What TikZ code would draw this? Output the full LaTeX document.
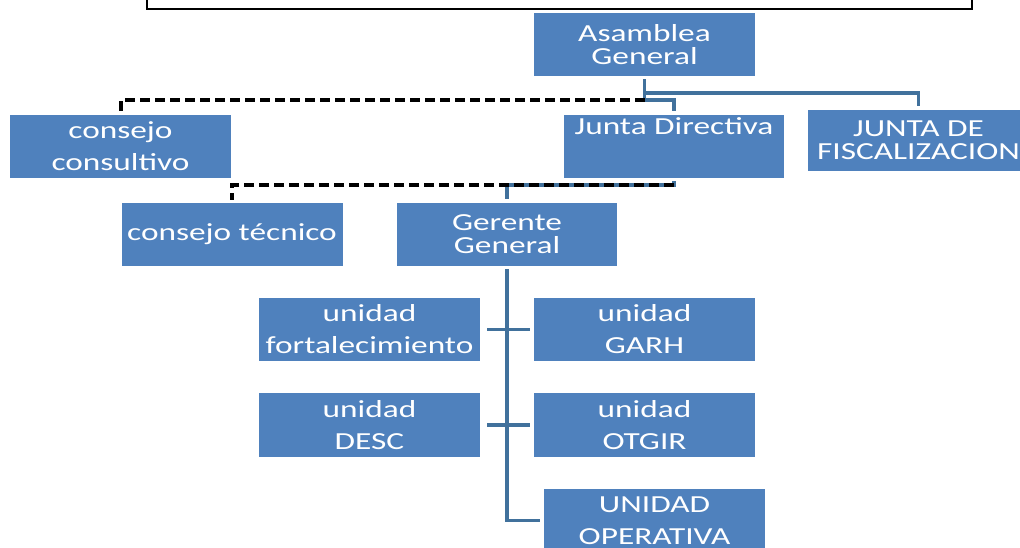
\documentclass[tikz,border=0pt]{standalone}
\usepackage{fontspec}
\usepackage{xcolor}
\newfontfamily\orgFont[FakeStretch=1.36]{Carlito}
\definecolor{boxColor}{RGB}{79, 129, 189}
\definecolor{lineColor}{RGB}{65, 113, 156}

\begin{document}
\begin{tikzpicture}[x=1pt, y=-1pt,
    orgbox/.style={fill=boxColor, text=white, inner sep=2pt, minimum width=221, minimum height=63, align=center, font=\orgFont\fontsize{24.5}{23}\selectfont},
    orgboxloose/.style={orgbox, font=\orgFont\fontsize{24.5}{32}\selectfont},
    link/.style={draw=lineColor, line width=3.5pt, shorten <=3pt, shorten >=4pt},
    dashlink/.style={draw=black, line width=4pt, dash pattern=on 10pt off 5pt, shorten >=3pt}]
                \useasboundingbox (0,0) rectangle (1020,547);
                \clip (0,0) rectangle (1020,547);
                \draw[line width=1.8pt] (147,-20) rectangle (972,9);
                \node[orgbox] (asamblea) at (644.5,44.5) {Asamblea\\General};
                \node[orgboxloose] (consultivo) at (120.5,146.5) {consejo\\consultivo};
                \node[orgboxloose, minimum width=220] (junta) at (674,146.5) {Junta Directiva\\\strut};
                \node[orgbox, minimum height=61] (fiscal) at (918.5,140.5) {JUNTA DE\\FISCALIZACION};
                \node[orgbox] (tecnico) at (232,234.5) {consejo técnico};
                \node[orgbox, minimum width=220] (gerente) at (507,234.5) {Gerente\\General};
                \node[orgboxloose] (fortal) at (369.5,329.5) {unidad\\fortalecimiento};
                \node[orgboxloose] (garh) at (644.5,329.5) {unidad\\GARH};
                \node[orgboxloose, minimum height=64] (desc) at (369.5,425) {unidad\\DESC};
                \node[orgboxloose, minimum height=64] (otgir) at (644.5,425) {unidad\\OTGIR};
                \node[orgboxloose] (operativa) at (654.5,520.5) {UNIDAD\\OPERATIVA};
                % asamblea general
                \draw[link] (asamblea.south) -- ++(0,17) -| (fiscal.north);
                \draw[link] (asamblea.south) -- ++(0,24) coordinate (aJunta) -| (junta.north);
                \draw[dashlink] (aJunta) -| (consultivo.north);
                % junta directiva
                \draw[link] (junta.south) -- ++(0,7) coordinate (jGerente) -| (gerente.north);
                \draw[dashlink] (jGerente) -| (tecnico.north);
                % gerente general
                \draw[link] (gerente.south) |- (operativa.west);
                \draw[link, shorten <=7pt] (fortal.east) -- (garh.west);
                \draw[link, shorten <=7pt] (desc.east) -- (otgir.west);
            \end{tikzpicture}
\end{document}
